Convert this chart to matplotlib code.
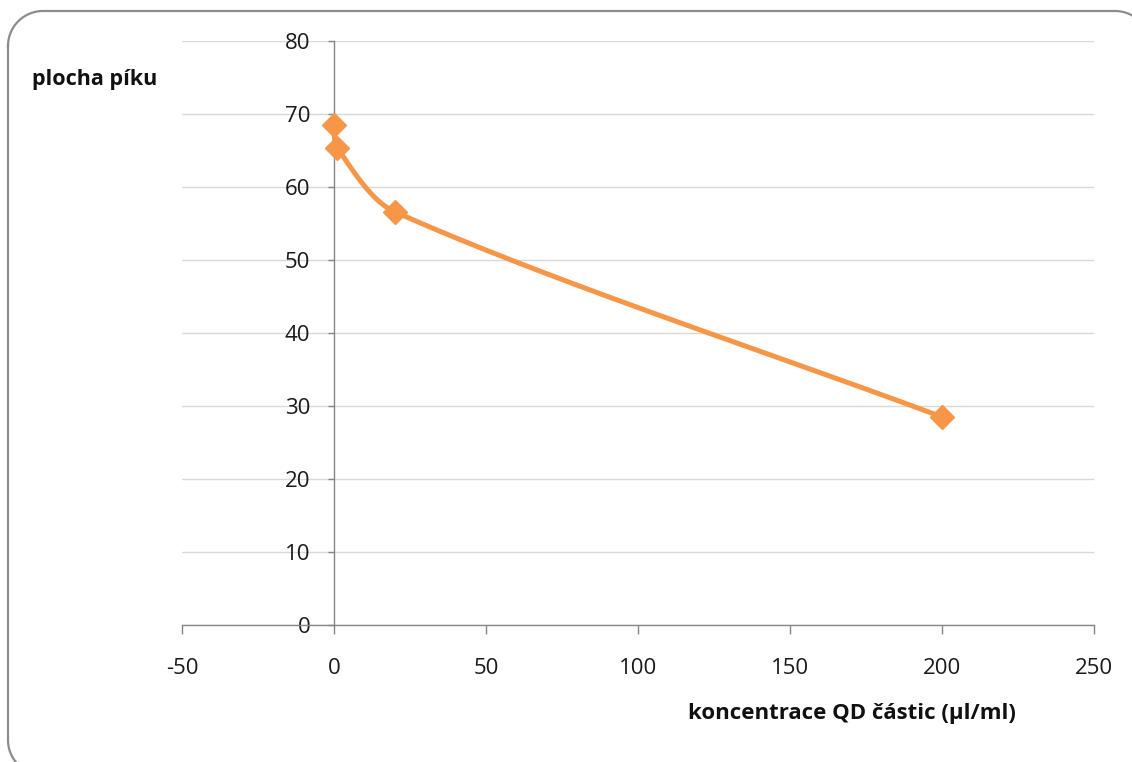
import numpy as np
import matplotlib
matplotlib.use("Agg")
import matplotlib.pyplot as plt

# Data: peak area versus QD particle concentration
concentration = [0, 1, 20, 200]
peak_area = [68.5, 65.4, 56.6, 28.5]

x_ticks = [-50, 0, 50, 100, 150, 200, 250]
y_ticks = [0, 10, 20, 30, 40, 50, 60, 70, 80]

ORANGE = "#F79646"
AXIS_GRAY = "#868686"
GRID_GRAY = "#D9D9D9"
FONT = "Open Sans"
plt.rcParams["font.family"] = [FONT, "DejaVu Sans"]

W, H = 1132, 762
fig = plt.figure(figsize=(W / 100, H / 100), dpi=100)

# background layer in pixel units for the rounded chart-area frame
bg = fig.add_axes([0, 0, 1, 1], zorder=-1)
bg.set_xlim(0, W)
bg.set_ylim(H, 0)
bg.axis("off")


def rounded_rect(x0, y0, x1, y1, r, n=30):
    def arc(cx, cy, a0, a1):
        a = np.linspace(np.radians(a0), np.radians(a1), n)
        return np.column_stack([cx + r * np.cos(a), cy + r * np.sin(a)])
    parts = [arc(x0 + r, y0 + r, 180, 270), arc(x1 - r, y0 + r, 270, 360),
             arc(x1 - r, y1 - r, 0, 90), arc(x0 + r, y1 - r, 90, 180)]
    p = np.vstack(parts)
    return np.vstack([p, p[:1]])


rr = rounded_rect(8, 11, 1150, 775, 35)
bg.plot(rr[:, 0], rr[:, 1], color="#8C8C8C", linewidth=1.6, clip_on=False)

ax = fig.add_axes([182 / W, 1 - 625 / H, (1094 - 182) / W, (625 - 41) / H])
ax.set_facecolor("none")
ax.set_xlim(-50, 250)
ax.set_ylim(0, 80)

ax.set_yticks(y_ticks)
ax.set_xticks(x_ticks)
ax.set_yticklabels([str(v) for v in y_ticks])
ax.set_xticklabels([str(v) for v in x_ticks])

for side in ("top", "right"):
    ax.spines[side].set_visible(False)
ax.spines["left"].set_position(("data", 0))
ax.spines["bottom"].set_position(("data", 0))
for side in ("left", "bottom"):
    ax.spines[side].set_color(AXIS_GRAY)
    ax.spines[side].set_linewidth(1.0)
    ax.spines[side].set_zorder(1)

ax.tick_params(axis="y", direction="out", length=4, width=1, color=AXIS_GRAY,
               pad=13, labelcolor="#1a1a1a", labelsize=16)
ax.tick_params(axis="x", direction="out", length=6.5, width=1, color=AXIS_GRAY,
               pad=17, labelcolor="#1a1a1a", labelsize=16)

ax.yaxis.grid(True, color=GRID_GRAY, linewidth=1.0, zorder=0)
ax.set_axisbelow(True)

# smoothed line: cubic Bezier segments in display space, tangents from
# neighbouring points, arm length scaled to each segment's own length
pts = ax.transData.transform(np.column_stack([concentration, peak_area]))
n = len(pts)
tangents = []
for i in range(n):
    a = pts[max(i - 1, 0)]
    b = pts[min(i + 1, n - 1)]
    d = b - a
    tangents.append(d / np.linalg.norm(d))
curve = []
t = np.linspace(0, 1, 80)
for i in range(n - 1):
    p1, p2 = pts[i], pts[i + 1]
    L = np.linalg.norm(p2 - p1)
    c1 = p1 + tangents[i] * L * 0.3
    c2 = p2 - tangents[i + 1] * L * 0.3
    seg = ((1 - t) ** 3)[:, None] * p1 + (3 * (1 - t) ** 2 * t)[:, None] * c1 \
        + (3 * (1 - t) * t ** 2)[:, None] * c2 + (t ** 3)[:, None] * p2
    curve.append(seg)
curve = ax.transData.inverted().transform(np.vstack(curve))
ax.plot(curve[:, 0], curve[:, 1], color=ORANGE, linewidth=3.6,
        solid_capstyle="round", zorder=3, clip_on=False)
ax.plot(concentration, peak_area, linestyle="none", marker="D", markersize=12.5,
        color=ORANGE, zorder=4, clip_on=False)

fig.text(32 / W, 1 - 80 / H, "plocha píku", fontsize=15.5,
         fontweight="bold", va="center", ha="left", color="#111111")
fig.text(688 / W, 1 - 714 / H, "koncentrace QD částic (µl/ml)",
         fontsize=16, fontweight="bold", va="center", ha="left", color="#111111")

fig.savefig("out.png", dpi=100)
